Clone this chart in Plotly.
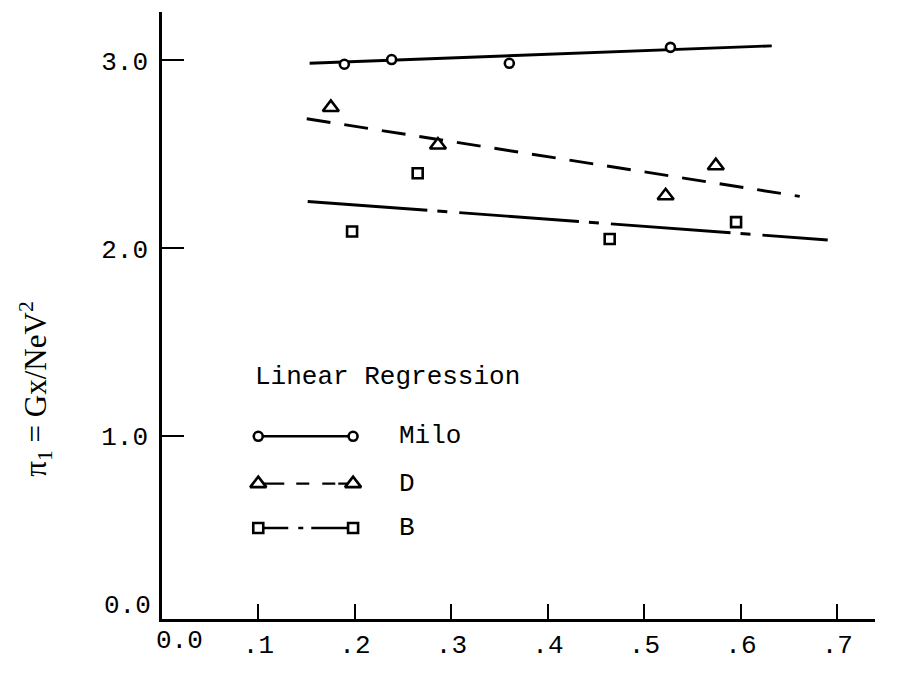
import plotly.graph_objects as go

# ---- data ----
milo_x = [0.189, 0.238, 0.360, 0.527]
milo_y = [2.98, 3.005, 2.985, 3.07]
d_x = [0.175, 0.286, 0.522, 0.574]
d_y = [2.75, 2.55, 2.28, 2.44]
b_x = [0.197, 0.265, 0.464, 0.595]
b_y = [2.09, 2.40, 2.05, 2.14]

# regression lines (endpoints)
milo_fit_x = [0.153, 0.632]
milo_fit_y = [2.985, 3.078]
d_fit_x = [0.150, 0.661]
d_fit_y = [2.69, 2.277]
b_fit_x = [0.151, 0.69]
b_fit_y = [2.25, 2.045]

x_tick_vals = [0.1, 0.2, 0.3, 0.4, 0.5, 0.6, 0.7]
x_tick_text = [".1", ".2", ".3", ".4", ".5", ".6", ".7"]
y_tick_vals = [1.0, 2.0, 3.0]
y_tick_text = ["1.0", "2.0", "3.0"]

legend_names = ["Milo", "D", "B"]

MONO = "Liberation Mono"
SERIF = "Liberation Serif"
LW = 2.9

fig = go.Figure()

# regression lines
fig.add_trace(go.Scatter(x=milo_fit_x, y=milo_fit_y, mode="lines",
                         line=dict(color="black", width=LW), showlegend=False))
fig.add_trace(go.Scatter(x=d_fit_x, y=d_fit_y, mode="lines",
                         line=dict(color="black", width=LW, dash="24px,14px"), showlegend=False))
fig.add_trace(go.Scatter(x=b_fit_x, y=b_fit_y, mode="lines",
                         line=dict(color="black", width=LW, dash="120px,10px,10px,12px"),
                         showlegend=False))

# data points
mk_line = dict(color="black", width=2.6)
fig.add_trace(go.Scatter(x=milo_x, y=milo_y, mode="markers",
                         marker=dict(symbol="circle", size=9, color="white", line=mk_line),
                         showlegend=False))
fig.add_trace(go.Scatter(x=d_x, y=d_y, mode="markers",
                         marker=dict(symbol="triangle-up", size=14, color="white", line=mk_line),
                         showlegend=False))
fig.add_trace(go.Scatter(x=b_x, y=b_y, mode="markers",
                         marker=dict(symbol="square", size=10, color="white", line=mk_line),
                         showlegend=False))

# ---- hand-drawn style legend on an overlay axis (0..1 of plot area) ----
leg_x = [0.135, 0.268]
leg_rows = [0.301, 0.223, 0.150]
leg_dash = ["solid", "26px,12px,13px,13px,13px,3px,40px,10px", "30px,10px,5px,8px,60px,10px"]
leg_sym = ["circle", "triangle-up", "square"]
leg_size = [9, 14, 10]
for yv, dsh, sym, sz in zip(leg_rows, leg_dash, leg_sym, leg_size):
    fig.add_trace(go.Scatter(x=leg_x, y=[yv, yv], mode="lines+markers", xaxis="x2", yaxis="y2",
                             line=dict(color="black", width=2.4, dash=dsh),
                             marker=dict(symbol=sym, size=sz, color="white", line=mk_line),
                             showlegend=False))

annotations = [
    dict(x=0.128, y=0.398, xref="paper", yref="paper", text="Linear Regression",
         showarrow=False, xanchor="left", yanchor="middle", font=dict(family=MONO, size=26, color="black")),
]
for yv, name in zip(leg_rows, legend_names):
    annotations.append(dict(x=0.330, y=yv, xref="paper", yref="paper", text=name,
                            showarrow=False, xanchor="left", yanchor="middle",
                            font=dict(family=MONO, size=26, color="black")))
# origin labels
annotations.append(dict(x=-0.012, y=0.021, xref="paper", yref="paper", text="0.0", showarrow=False,
                        xanchor="right", yanchor="middle", font=dict(family=MONO, size=26, color="black")))
annotations.append(dict(x=0.025, y=-0.008, xref="paper", yref="paper", text="0.0", showarrow=False,
                        xanchor="center", yanchor="top", font=dict(family=MONO, size=26, color="black")))
# y axis title
annotations.append(dict(x=-0.178, y=0.378, xref="paper", yref="paper",
                        text="π<sub>1</sub> = Gx/NeV<sup>2</sup>", textangle=-90, showarrow=False,
                        xanchor="center", yanchor="middle", font=dict(family=SERIF, size=31, color="black")))

fig.update_layout(
    width=909, height=673,
    margin=dict(l=162, r=34, t=12, b=35),
    paper_bgcolor="white", plot_bgcolor="white",
    showlegend=False,
    annotations=annotations,
    xaxis=dict(range=[0, 0.739], showgrid=False, zeroline=False, showline=True, linecolor="black",
               linewidth=2.5, ticks="inside", ticklen=15, tickwidth=2, tickcolor="black",
               tickvals=x_tick_vals, ticktext=x_tick_text, ticklabelstandoff=0,
               tickfont=dict(family=MONO, size=26, color="black")),
    yaxis=dict(range=[0.028, 3.258], showgrid=False, zeroline=False, showline=True, linecolor="black",
               linewidth=2.5, ticks="inside", ticklen=22, tickwidth=2, tickcolor="black",
               tickvals=y_tick_vals, ticktext=y_tick_text, ticklabelstandoff=6,
               tickfont=dict(family=MONO, size=26, color="black")),
    xaxis2=dict(range=[0, 1], overlaying="x", visible=False, fixedrange=True),
    yaxis2=dict(range=[0, 1], overlaying="y", visible=False, fixedrange=True),
)

page_fix = (
    "document.documentElement.style.margin='0';"
    "document.documentElement.style.overflow='hidden';"
    "document.body.style.margin='0';"
    "document.body.style.overflow='hidden';"
)
fig.write_html("out.html", post_script=page_fix, config={"displayModeBar": False})
